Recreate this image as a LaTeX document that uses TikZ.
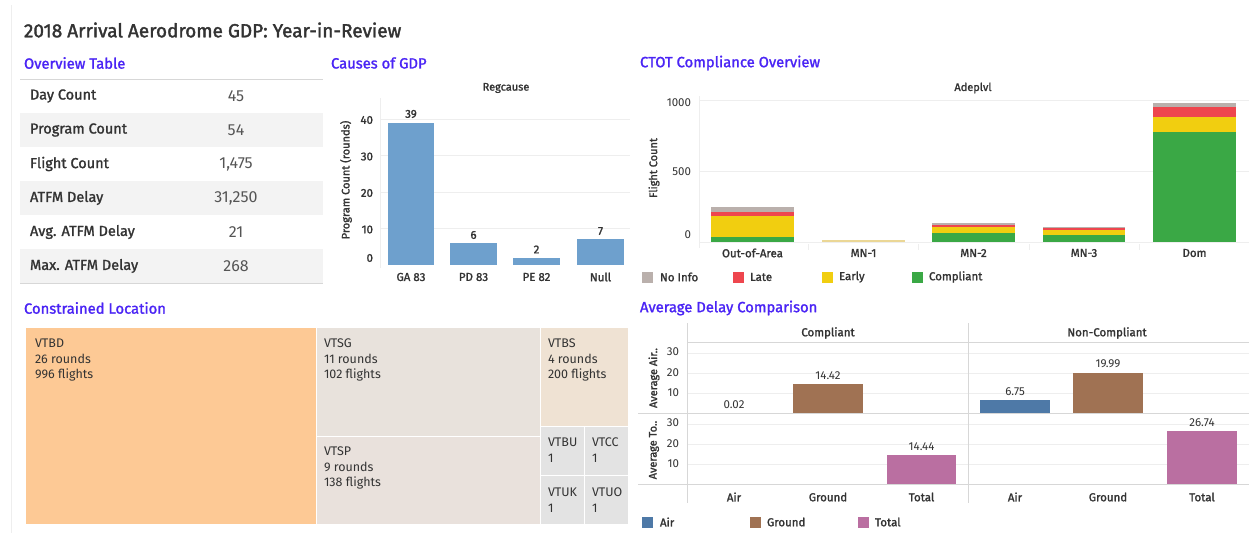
\documentclass[tikz,border=0pt]{standalone}
\usepackage{fontspec}
\setmainfont{Fira Sans}
\newfontfamily\semib[FakeBold=1.5]{Fira Sans}
\newfontfamily\ttlfont[FakeBold=1.8]{Fira Sans}
\definecolor{hdr}{RGB}{74,36,245}
\definecolor{txt}{RGB}{51,51,51}
\definecolor{val}{RGB}{85,85,85}
\definecolor{rowshade}{RGB}{243,243,243}
\definecolor{rulec}{RGB}{215,215,215}
\definecolor{gridc}{RGB}{238,238,238}
\definecolor{barblue}{RGB}{110,160,205}
\definecolor{noinfo}{RGB}{186,176,172}
\definecolor{late}{RGB}{238,70,78}
\definecolor{early}{RGB}{241,206,16}
\definecolor{compl}{RGB}{58,168,69}
\definecolor{paley}{RGB}{235,215,150}
\definecolor{air}{RGB}{78,121,167}
\definecolor{ground}{RGB}{160,114,83}
\definecolor{total}{RGB}{186,111,161}
\definecolor{vtbd}{RGB}{253,201,149}
\definecolor{vtsg}{RGB}{232,226,220}
\definecolor{vtsp}{RGB}{233,225,220}
\definecolor{vtbs}{RGB}{239,226,211}
\definecolor{smallc}{RGB}{227,227,227}
\begin{document}
\begin{tikzpicture}[x=1pt,y=-1pt,
  every node/.style={inner sep=0pt,outer sep=0pt},
  ttl/.style={font=\ttlfont\fontsize{19}{22}\selectfont,text=txt,anchor=west},
  hd/.style={font=\semib\fontsize{14.8}{17}\selectfont,text=hdr,anchor=west},
  lbl/.style={font=\semib\fontsize{14.5}{17}\selectfont,text=txt,anchor=west},
  num/.style={font=\fontsize{16}{18}\selectfont,text=val},
  tick/.style={font=\fontsize{11.5}{13}\selectfont,text=txt},
  ticks/.style={font=\semib\fontsize{11.5}{13}\selectfont,text=txt},
  axt/.style={font=\semib\fontsize{11}{13}\selectfont,text=txt},
  tm/.style={font=\fontsize{12.5}{14}\selectfont,text=txt,anchor=west},
  cell/.style={draw=white,line width=1pt},
  gl/.style={draw=gridc,line width=0.8pt},
  sl/.style={draw=rulec,line width=1pt}]
\useasboundingbox (0,0) rectangle (1249,533);
\fill[white] (0,0) rectangle (1249,533);
\draw[gridc] (11,5) -- (11,533);

% title
\node[ttl] (title) at (24,30) {2018 Arrival Aerodrome GDP: Year-in-Review};

% ---------- Overview table
\node[hd] (hov) at (24,63) {Overview Table};
\foreach \i in {1,3,5} \fill[rowshade] (20,79+34*\i) rectangle (323,113+34*\i);
\draw[sl] (20,79) -- (323,79);
\draw[sl] (20,283.5) -- (323,283.5);
\foreach \i/\l/\v in {0/Day Count/45,1/Program Count/54,2/Flight Count/{1,475},3/ATFM Delay/{31,250},4/Avg. ATFM Delay/21,5/Max. ATFM Delay/268}{
  \node[lbl] (row\i) at (30,96+34*\i) {\l};
  \node[num] (val\i) at (236,96.5+34*\i) {\v};
}

% ---------- Causes of GDP
\node[hd] (hcg) at (331,63) {Causes of GDP};
\node[axt] (regc) at (506,88) {Regcause};
\node[axt,rotate=90] (pcy) at (346,180) {Program Count (rounds)};
\draw[gl] (380,98) -- (380,268);
\foreach \v/\y in {40/119,30/155.5,20/192,10/228.5}{
  \draw[gl] (380,\y) -- (630,\y);
  \node[ticks,anchor=east] (gt\v) at (373,\y+1) {\v};
}
\node[ticks,anchor=east] (gt0) at (373,258) {0};
\fill[barblue] (388,122.65) rectangle (434,265);
\fill[barblue] (450,243.1) rectangle (497,265);
\fill[barblue] (513,257.7) rectangle (560,265);
\fill[barblue] (577,239.45) rectangle (624,265);
\node[ticks] (b1) at (411,114) {39};
\node[ticks] (b2) at (473.5,235) {6};
\node[ticks] (b3) at (536.5,249.5) {2};
\node[ticks] (b4) at (600.5,231) {7};
\node[ticks] (c1) at (411,277) {GA 83};
\node[ticks] (c2) at (473.5,277) {PD 83};
\node[ticks] (c3) at (536.5,277) {PE 82};
\node[ticks] (c4) at (600.5,277) {Null};

% ---------- CTOT Compliance
\node[hd] (hct) at (640,63) {CTOT Compliance Overview};
\node[axt] (adep) at (973,88) {Adeplvl};
\node[axt,rotate=90] (fcy) at (654,168) {Flight Count};
\draw[gl] (699,96) -- (699,248);
\draw[gl] (699,100) -- (1249,100);
\draw[gl] (699,171) -- (1249,171);
\draw[gl] (699,242.5) -- (1249,242.5);
\foreach \x in {808,918,1029,1139} \draw[gl] (\x,244) -- (\x,250);
\node[tick,anchor=east] (ft1) at (691,103) {1000};
\node[tick,anchor=east] (ft2) at (691,172) {500};
\node[tick,anchor=east] (ft3) at (691,235) {0};
% Out-of-Area
\fill[compl] (711,237) rectangle (794,242);
\fill[early] (711,216) rectangle (794,237);
\fill[late] (711,212) rectangle (794,216);
\fill[noinfo] (711,207) rectangle (794,212);
% MN-1
\fill[paley] (822,239.5) rectangle (905,242);
% MN-2
\fill[compl] (932,233) rectangle (1015,242);
\fill[early] (932,227) rectangle (1015,233);
\fill[late] (932,225) rectangle (1015,227);
\fill[noinfo] (932,223) rectangle (1015,225);
% MN-3
\fill[compl] (1043,235) rectangle (1125,242);
\fill[early] (1043,229.5) rectangle (1125,235);
\fill[late] (1043,228) rectangle (1125,229.5);
\fill[noinfo] (1043,227) rectangle (1125,228);
% Dom
\fill[compl] (1153,132) rectangle (1236,242);
\fill[early] (1153,117) rectangle (1236,132);
\fill[late] (1153,107) rectangle (1236,117);
\fill[noinfo] (1153,103) rectangle (1236,107);
\node[ticks] (a1) at (752.5,253) {Out-of-Area};
\node[ticks] (a2) at (863.5,253) {MN-1};
\node[ticks] (a3) at (973.5,253) {MN-2};
\node[ticks] (a4) at (1084,253) {MN-3};
\node[ticks] (a5) at (1194.5,253) {Dom};
% legend
\fill[noinfo] (642,271.5) rectangle (653,282.5);
\node[ticks,anchor=west] (l1) at (660,277) {No Info};
\fill[late] (733,271.5) rectangle (744,282.5);
\node[ticks,anchor=west] (l2) at (750,277) {Late};
\fill[early] (822,271.5) rectangle (833,282.5);
\node[ticks,anchor=west] (l3) at (839,277) {Early};
\fill[compl] (912,271.5) rectangle (923,282.5);
\node[ticks,anchor=west] (l4) at (929,277) {Compliant};

% ---------- Constrained Location
\node[hd] (hcl) at (24,308) {Constrained Location};
\fill[vtbd] (26,328) rectangle (316.5,524);
\fill[vtsg] (316.5,328) rectangle (540.5,436.5);
\fill[vtsp] (316.5,436.5) rectangle (540.5,524);
\fill[vtbs] (540.5,328) rectangle (628,426.5);
\fill[smallc] (540.5,426.5) rectangle (628,524);
\draw[cell] (316.5,328) -- (316.5,524);
\draw[cell] (540.5,328) -- (540.5,524);
\draw[cell] (316.5,436.5) -- (540.5,436.5);
\draw[cell] (540.5,426.5) -- (628,426.5);
\draw[cell] (540.5,475.5) -- (628,475.5);
\draw[cell] (584.5,426.5) -- (584.5,524);
\node[tm] (t1a) at (35,343) {VTBD};
\node[tm] (t1b) at (35,359) {26 rounds};
\node[tm] (t1c) at (35,375) {996 flights};
\node[tm] (t2a) at (324,343) {VTSG};
\node[tm] (t2b) at (324,359) {11 rounds};
\node[tm] (t2c) at (324,375) {102 flights};
\node[tm] (t3a) at (548,343) {VTBS};
\node[tm] (t3b) at (548,359) {4 rounds};
\node[tm] (t3c) at (548,375) {200 flights};
\node[tm] (t4a) at (324,451) {VTSP};
\node[tm] (t4b) at (324,467) {9 rounds};
\node[tm] (t4c) at (324,483) {138 flights};
\node[tm] (t5a) at (548,442) {VTBU};
\node[tm] (t5b) at (548,458) {1};
\node[tm] (t6a) at (592,442) {VTCC};
\node[tm] (t6b) at (592,458) {1};
\node[tm] (t7a) at (548,492) {VTUK};
\node[tm] (t7b) at (548,508) {1};
\node[tm] (t8a) at (592,492) {VTUO};
\node[tm] (t8b) at (592,508) {1};

% ---------- Average Delay Comparison
\node[hd] (had) at (640,308) {Average Delay Comparison};
\foreach \y in {353,373,393,424,444,464} \draw[gl] (687,\y) -- (1249,\y);
\draw[sl] (687,342) -- (1249,342);
\draw[sl] (638,413) -- (1249,413);
\draw[sl] (638,484) -- (1249,484);
\draw[sl] (687,323) -- (687,503);
\draw[sl] (968,323) -- (968,503);
\node[ticks] (hc1) at (828,333) {Compliant};
\node[ticks] (hc2) at (1107,333) {Non-Compliant};
\node[axt,rotate=90] (ya1) at (654,378) {Average Air..};
\node[axt,rotate=90] (ya2) at (654,450) {Average To..};
\foreach \v/\y in {30/352,20/373,10/393}{
  \node[tick,anchor=east] (u\v) at (679,\y) {\v};
  \node[tick,anchor=east] (w\v) at (679,\y+71) {\v};
}
\fill[ground] (793,384.2) rectangle (863,413);
\fill[total] (887,455.1) rectangle (956,484);
\fill[air] (980,399.5) rectangle (1050,413);
\fill[ground] (1073,373) rectangle (1143,413);
\fill[total] (1167,430.5) rectangle (1237,484);
\node[tick] (v1) at (734,405) {0.02};
\node[tick] (v2) at (828,376) {14.42};
\node[tick] (v3) at (921.5,447) {14.44};
\node[tick] (v4) at (1015,392) {6.75};
\node[tick] (v5) at (1108,364) {19.99};
\node[tick] (v6) at (1202,423) {26.74};
\node[ticks] (x1) at (734,497) {Air};
\node[ticks] (x2) at (828,497) {Ground};
\node[ticks] (x3) at (921.5,497) {Total};
\node[ticks] (x4) at (1015,497) {Air};
\node[ticks] (x5) at (1108,497) {Ground};
\node[ticks] (x6) at (1202,497) {Total};
\fill[air] (642,516.5) rectangle (653,527.5);
\node[ticks,anchor=west] (m1) at (660,522) {Air};
\fill[ground] (750,516.5) rectangle (761,527.5);
\node[ticks,anchor=west] (m2) at (767,522) {Ground};
\fill[total] (858,516.5) rectangle (869,527.5);
\node[ticks,anchor=west] (m3) at (875,522) {Total};
\end{tikzpicture}
\end{document}
